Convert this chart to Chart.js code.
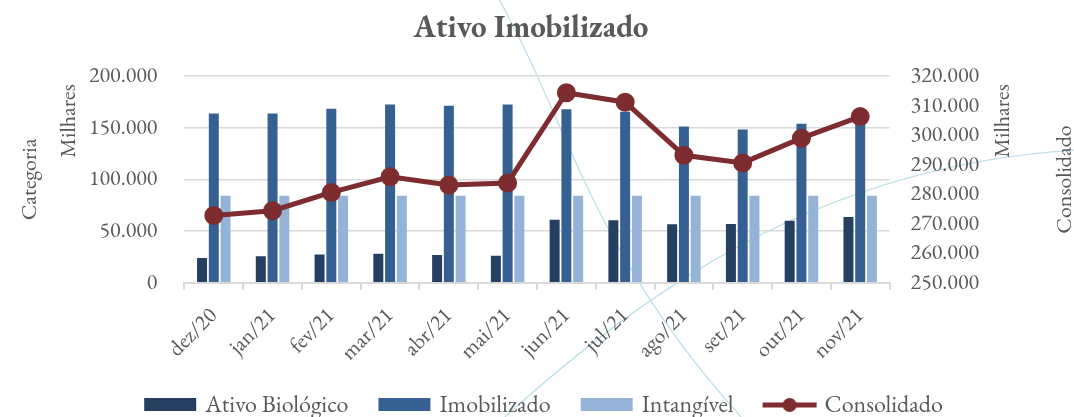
<!DOCTYPE html>
<html>
<head>
<meta charset="utf-8">
<script src="https://cdn.jsdelivr.net/npm/chart.js@4"></script>
<style>
  html, body { margin: 0; padding: 0; background: #fff; }
  #wrap { width: 1074px; height: 417px; }
</style>
</head>
<body>
<div id="wrap"><canvas id="chart"></canvas></div>
<script>
// values in thousands (R$ mil)
const categories = ['dez/20', 'jan/21', 'fev/21', 'mar/21', 'abr/21', 'mai/21',
                    'jun/21', 'jul/21', 'ago/21', 'set/21', 'out/21', 'nov/21'];
const ativoBiologico = [23800, 25700, 27300, 28000, 26700, 26000, 61000, 60400, 56600, 56900, 60100, 63600];
const imobilizado    = [163900, 163900, 168400, 172500, 171300, 172500, 168000, 165500, 151300, 148400, 153900, 158400];
const intangivel     = [84300, 84300, 84300, 84300, 84300, 84300, 84300, 84300, 84300, 84300, 84300, 84300];
const consolidado    = [272800, 274400, 280600, 285900, 283100, 283800, 314400, 311200, 293200, 290600, 299000, 306300];

const leftTicks = { min: 0, max: 200000, step: 50000 };
const rightTicks = { min: 250000, max: 320000, step: 10000 };

const seriesNames = ['Ativo Biológico', 'Imobilizado', 'Intangível', 'Consolidado'];
const seriesColors = ['#243f60', '#376092', '#95b3d7', '#7d2c2f'];

const textColor = '#595959';
const gridColor = '#d9d9d9';
const fontFamily = "'EB Garamond', Garamond, 'Liberation Serif', serif";

function fmt(v) {
    return String(Math.round(v)).replace(/\B(?=(\d{3})+(?!\d))/g, '.');
}

// little canvases used as legend symbols
function swatch(color, isLine) {
    const c = document.createElement('canvas');
    c.width = 58; c.height = 16;
    const g = c.getContext('2d');
    if (isLine) {
        g.strokeStyle = color; g.lineWidth = 5;
        g.beginPath(); g.moveTo(2, 8); g.lineTo(56, 8); g.stroke();
        g.fillStyle = color;
        g.beginPath(); g.arc(29, 8, 7, 0, Math.PI * 2); g.fill();
    } else {
        g.fillStyle = color;
        g.fillRect(3, 1, 52, 13);
    }
    return c;
}

// faint decorative curves behind the chart
const backdrop = {
    id: 'backdrop',
    beforeDraw(chart) {
        const { ctx, width: w, height: h } = chart;
        ctx.save();
        ctx.strokeStyle = '#bfe0ea';
        ctx.lineWidth = 1.3;
        ctx.beginPath();
        ctx.moveTo(0.465 * w, 0);
        ctx.bezierCurveTo(0.53 * w, 0.3 * h, 0.55 * w, 0.6 * h, 0.69 * w, h);
        ctx.stroke();
        ctx.beginPath();
        ctx.moveTo(0.47 * w, h);
        ctx.bezierCurveTo(0.6 * w, 0.7 * h, 0.76 * w, 0.4 * h, w, 0.36 * h);
        ctx.stroke();
        ctx.restore();
    }
};

// Excel-style axis titles, all reading bottom to top
const axisTitles = {
    id: 'axisTitles',
    afterLayout(chart) {
        // legend sits a bit right of the plot centre in the original
        chart.legend.left += 14;
        chart.legend.right += 14;
    },
    afterDraw(chart) {
        const { ctx, chartArea } = chart;
        const midY = (chartArea.top + chartArea.bottom) / 2;
        const items = [
            { text: 'Categoria', x: 30, y: midY, align: 'center' },
            { text: 'Milhares', x: 69, y: chartArea.top + 8, align: 'right' },
            { text: 'Milhares', x: 1003, y: chartArea.top + 8, align: 'right' },
            { text: 'Consolidado', x: 1065, y: midY, align: 'center' }
        ];
        ctx.save();
        ctx.fillStyle = textColor;
        ctx.font = '22px ' + fontFamily;
        ctx.textBaseline = 'middle';
        items.forEach(t => {
            ctx.save();
            ctx.translate(t.x, t.y);
            ctx.rotate(-Math.PI / 2);
            ctx.textAlign = t.align;
            ctx.fillText(t.text, 0, 0);
            ctx.restore();
        });
        ctx.restore();
    }
};

const ctx = document.getElementById('chart').getContext('2d');

new Chart(ctx, {
    data: {
        labels: categories,
        datasets: [
            { type: 'bar', label: seriesNames[0], data: ativoBiologico, backgroundColor: seriesColors[0], yAxisID: 'y', order: 2 },
            { type: 'bar', label: seriesNames[1], data: imobilizado, backgroundColor: seriesColors[1], yAxisID: 'y', order: 2 },
            { type: 'bar', label: seriesNames[2], data: intangivel, backgroundColor: seriesColors[2], yAxisID: 'y', order: 2 },
            {
                type: 'line', label: seriesNames[3], data: consolidado, yAxisID: 'y1', order: 1,
                borderColor: seriesColors[3], backgroundColor: seriesColors[3],
                borderWidth: 5, pointRadius: 7, pointHoverRadius: 7, tension: 0
            }
        ]
    },
    options: {
        responsive: true,
        maintainAspectRatio: false,
        animation: false,
        layout: { padding: { left: 62, right: 74, top: 0, bottom: -10 } },
        datasets: {
            bar: { categoryPercentage: 0.6, barPercentage: 0.85 }
        },
        scales: {
            x: {
                offset: true,
                grid: { display: true, drawOnChartArea: false, drawTicks: true, tickLength: 7, color: gridColor, lineWidth: 2 },
                border: { display: true, color: gridColor, width: 2 },
                ticks: {
                    color: textColor, font: { family: fontFamily, size: 22 },
                    minRotation: 45, maxRotation: 45, padding: 13, autoSkip: false
                },
                // rotated labels reserve more room than they use
                afterFit: scale => { scale.height -= 19; }
            },
            y: {
                position: 'left',
                min: leftTicks.min, max: leftTicks.max,
                grid: { color: gridColor, lineWidth: 1.5, drawTicks: false },
                border: { display: false },
                ticks: {
                    stepSize: leftTicks.step, padding: 27, color: textColor, autoSkip: false,
                    font: { family: fontFamily, size: 22 },
                    callback: v => fmt(v)
                }
            },
            y1: {
                position: 'right',
                min: rightTicks.min, max: rightTicks.max,
                grid: { display: false, drawTicks: false },
                border: { display: false },
                ticks: {
                    stepSize: rightTicks.step, padding: 21, color: textColor, autoSkip: false,
                    font: { family: fontFamily, size: 22 },
                    callback: v => fmt(v)
                }
            }
        },
        plugins: {
            title: {
                display: true,
                text: 'Ativo Imobilizado',
                color: textColor,
                font: { family: fontFamily, size: 31, weight: 'bold' },
                padding: { top: 10, bottom: 29 }
            },
            legend: {
                position: 'bottom',
                labels: {
                    color: textColor,
                    font: { family: fontFamily, size: 24 },
                    usePointStyle: true,
                    pointStyleWidth: 46,
                    padding: 33,
                    generateLabels: chart => chart.data.datasets.map((ds, i) => ({
                        text: ds.label,
                        fillStyle: seriesColors[i],
                        strokeStyle: seriesColors[i],
                        fontColor: textColor,
                        lineWidth: 0,
                        pointStyle: swatch(seriesColors[i], ds.type === 'line'),
                        datasetIndex: i,
                        hidden: !chart.isDatasetVisible(i)
                    }))
                }
            },
            tooltip: { enabled: false }
        }
    },
    plugins: [backdrop, axisTitles]
});
</script>
</body>
</html>
